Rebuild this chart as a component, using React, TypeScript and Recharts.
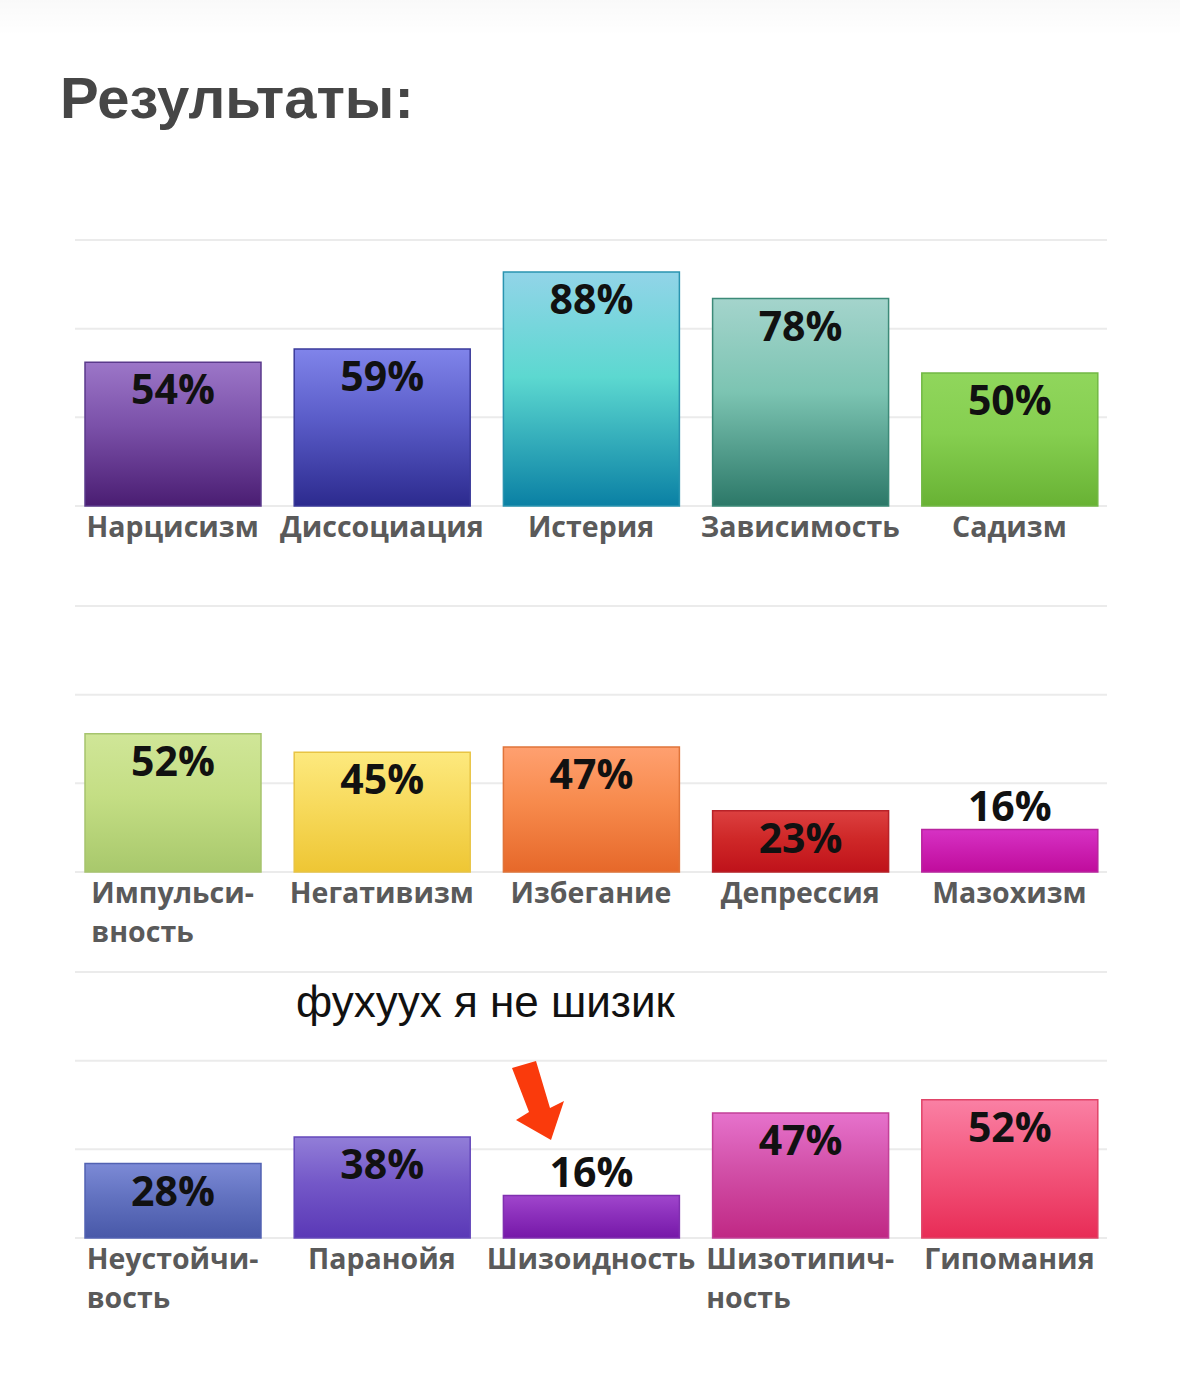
import React from 'react';
import { BarChart, Bar, XAxis, YAxis, CartesianGrid, Cell, LabelList } from 'recharts';

// values (percent)
const categories1 = ['Нарцисизм', 'Диссоциация', 'Истерия', 'Зависимость', 'Садизм'];
const values1 = [54, 59, 88, 78, 50];

const categories2 = ['Импульси-\nвность', 'Негативизм', 'Избегание', 'Депрессия', 'Мазохизм'];
const values2 = [52, 45, 47, 23, 16];

const categories3 = ['Неустойчи-\nвость', 'Паранойя', 'Шизоидность', 'Шизотипич-\nность', 'Гипомания'];
const values3 = [28, 38, 16, 47, 52];

const yTicks = [0, 100 / 3, 200 / 3, 100];

// gradient stops per bar: top, middle, bottom, outline
const colors1 = [
  ['#9c76c8', '#7a50a8', '#4a1d72', '#5b3a8c'],
  ['#8084ea', '#5a5cc8', '#2c2a8e', '#3a3a9a'],
  ['#92d4e8', '#5cd8d0', '#0a80a4', '#2a94b0'],
  ['#a4d4cc', '#7cc4b2', '#2c7868', '#3c8a78'],
  ['#90d65c', '#86cf50', '#68b234', '#72b844'],
];
const colors2 = [
  ['#d0e698', '#c4de84', '#a8c86c', '#a6c46e'],
  ['#fde97e', '#f7da5c', '#eec634', '#e8c444'],
  ['#ffa070', '#f78a4c', '#e6682a', '#e0743a'],
  ['#dc4040', '#cf2828', '#bf121a', '#b82228'],
  ['#d632c4', '#cc20b2', '#c00c9c', '#b8249e'],
];
const colors3 = [
  ['#7c8ad6', '#6272c0', '#4858a8', '#5262b2'],
  ['#927ed8', '#7458c8', '#5a38b6', '#6448ba'],
  ['#a046cc', '#8c30bc', '#7618a8', '#8030b0'],
  ['#e672cc', '#d250a8', '#c02884', '#c24098'],
  ['#fa80a4', '#f45a80', '#e82c56', '#e04468'],
];

const PANEL_H = 366;
const TICK_SIZE = 28.5;
const TICK_FONT = `bold ${TICK_SIZE}px 'Open Sans'`;

let ctx: CanvasRenderingContext2D | null = null;
function measure(text: string) {
  if (!ctx) ctx = document.createElement('canvas').getContext('2d');
  if (!ctx) return text.length * 17;
  ctx.font = TICK_FONT;
  return ctx.measureText(text).width;
}

const CategoryTick = (props: any) => {
  const { x, y, payload } = props;
  const lines = String(payload.value).split('\n');
  const style = { fontFamily: "'Open Sans', sans-serif", fontWeight: 700, fontSize: TICK_SIZE, fill: '#5a5a5a' };
  if (lines.length === 1) {
    return (
      <text x={x} y={y + 31} textAnchor="middle" style={style}>
        {lines[0]}
      </text>
    );
  }
  const left = x - measure(lines[0]) / 2;
  return (
    <text x={left} y={y + 31} textAnchor="start" style={style}>
      {lines.map((l, i) => (
        <tspan key={i} x={left} dy={i === 0 ? 0 : 39}>
          {l}
        </tspan>
      ))}
    </text>
  );
};

const ValueLabel = (props: any) => {
  const { x, y, width, value } = props;
  const inside = value >= 20;
  return (
    <text
      x={x + width / 2}
      y={inside ? y + 42 : y - 8}
      textAnchor="middle"
      style={{ fontFamily: "'Open Sans', sans-serif", fontWeight: 700, fontSize: 41, fill: '#111' }}
    >
      {value}%
    </text>
  );
};

const gridLine = (p: any) => (
  <line key={p.key ?? p.y1} x1={p.x1 + 7} x2={p.x2 - 7} y1={p.y1} y2={p.y2} stroke="#ebebeb" strokeWidth={2} />
);

function Panel({ id, categories, values, colors, top }: any) {
  const data = categories.map((name: string, i: number) => ({ name, value: values[i] }));
  return (
    <div style={{ position: 'absolute', left: 0, top }}>
      <BarChart width={1180} height={PANEL_H} data={data} margin={{ top: 10, right: 66, bottom: 0, left: 68 }}>
        <defs>
          {colors.map((c: string[], i: number) => (
            <linearGradient key={i} id={`${id}-g${i}`} x1="0" y1="0" x2="0" y2="1">
              <stop offset="0%" stopColor={c[0]} />
              <stop offset="45%" stopColor={c[1]} />
              <stop offset="100%" stopColor={c[2]} />
            </linearGradient>
          ))}
        </defs>
        <CartesianGrid vertical={false} horizontal={gridLine} />
        <YAxis hide domain={[0, 100]} ticks={yTicks} />
        <XAxis
          dataKey="name"
          axisLine={false}
          tickLine={false}
          tickSize={0}
          tickMargin={0}
          height={90}
          interval={0}
          tick={<CategoryTick />}
        />
        <Bar dataKey="value" barSize={176} isAnimationActive={false}>
          {data.map((_: any, i: number) => (
            <Cell key={i} fill={`url(#${id}-g${i})`} stroke={colors[i][3]} strokeWidth={1.5} />
          ))}
          <LabelList dataKey="value" content={<ValueLabel />} />
        </Bar>
      </BarChart>
    </div>
  );
}

export default function App() {
  return (
    <div style={{ position: 'absolute', left: 0, top: 0, width: 1180, height: 1390, background: '#fff', overflow: 'hidden' }}>
      <div
        style={{
          position: 'absolute',
          left: 0,
          top: 0,
          width: 1180,
          height: 36,
          background: 'linear-gradient(rgba(0,0,0,0.025), rgba(0,0,0,0))',
        }}
      />
      <Panel id="p1" categories={categories1} values={values1} colors={colors1} top={230} />
      <Panel id="p2" categories={categories2} values={values2} colors={colors2} top={230 + PANEL_H} />
      <Panel id="p3" categories={categories3} values={values3} colors={colors3} top={230 + PANEL_H * 2} />
      <svg width={1180} height={1390} style={{ position: 'absolute', left: 0, top: 0, pointerEvents: 'none' }}>
        <text
          x={60}
          y={118}
          style={{ fontFamily: "'Liberation Sans', Arial, sans-serif", fontWeight: 700, fontSize: 58, fill: '#464646' }}
        >
          Результаты:
        </text>
        <text x={296} y={1017} style={{ fontFamily: "'Liberation Sans', Arial, sans-serif", fontSize: 44, fill: '#111' }}>
          фухуух я не шизик
        </text>
        <polygon
          points="512,1068 536,1061 550,1108 564,1101 551,1140 516,1120 529,1112"
          fill="#fa3a0c"
        />
      </svg>
    </div>
  );
}
